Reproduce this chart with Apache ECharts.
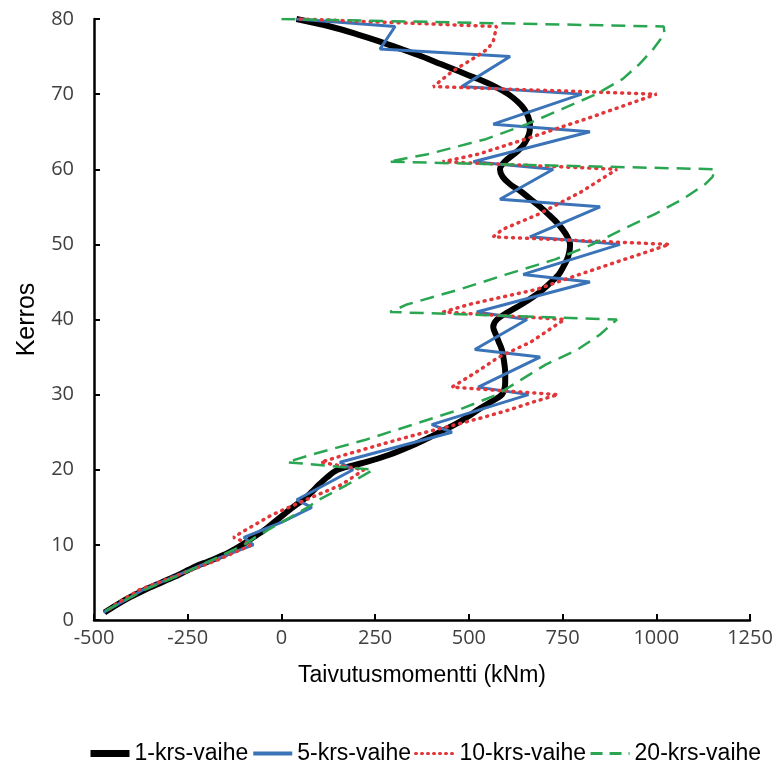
<!DOCTYPE html>
<html>
<head>
<meta charset="utf-8">
<script src="https://cdn.jsdelivr.net/npm/echarts@6/dist/echarts.min.js"></script>
<style>
html, body { margin: 0; padding: 0; background: #fff; }
#chart { width: 776px; height: 773px; }
</style>
</head>
<body>
<div id="chart"></div>
<script>
var seriesNames = ['1-krs-vaihe', '5-krs-vaihe', '10-krs-vaihe', '20-krs-vaihe'];
var colors = ['#000000', '#3a73b8', '#e2373a', '#2aa652'];
var xTicks = [-500, -250, 0, 250, 500, 750, 1000, 1250];
var yTicks = [0, 10, 20, 30, 40, 50, 60, 70, 80];

// 1-krs-vaihe (kerros / taivutusmomentti)
var floors1 = [80, 79, 78, 77, 76, 75, 74, 73, 72, 71, 70, 69, 68, 67, 66, 65, 64, 63, 62, 61,
               60, 59, 58, 57, 56, 55, 54, 53, 52, 51, 50, 49, 48, 47, 46, 45, 44, 43, 42, 41,
               40, 39, 38, 37, 36, 35, 34, 33, 32, 31, 30, 29, 28, 27, 26, 25, 24, 23, 22, 21,
               20, 19, 18, 17, 16, 15, 14, 13, 12, 11, 10, 9, 8, 7, 6, 5, 4, 3, 2, 1];
var moment1 = [40, 130, 200, 263, 320, 375, 425, 475, 525, 570, 605, 630, 648, 658, 663, 662, 655, 642, 620, 595,
               583, 590, 610, 640, 665, 690, 712, 733, 750, 763, 770, 768, 762, 752, 740, 720, 698, 671, 640, 605,
               575, 565, 572, 580, 588, 592, 595, 597, 597, 596, 588, 558, 525, 495, 462, 422, 382, 338, 288, 225,
               150, 122, 100, 80, 58, 30, 5, -20, -45, -75, -105, -140, -185, -235, -275, -320, -365, -405, -440, -472];

// 5-krs-vaihe
var floors5 = [80, 79, 76, 75, 71, 70, 66, 65, 61, 60, 56, 55, 51, 50, 46, 45, 41, 40, 36, 35,
               31, 30, 26, 25, 21, 20, 16, 15, 13, 11, 10, 8, 6, 4, 2, 1];
var moment5 = [40, 303, 263, 610, 481, 801, 565, 823, 512, 725, 583, 850, 663, 903, 645, 823, 521, 655, 516, 690,
               525, 659, 401, 455, 156, 191, 41, 81, 0, -100, -75, -180, -275, -370, -440, -475];

// 10-krs-vaihe
var floors10 = [80, 79, 77, 76, 75, 73, 71, 70, 67, 64, 62, 61, 60, 57, 54, 52, 51, 50, 48, 46,
                44, 42, 41, 40, 37, 35, 33, 31, 30, 29, 28, 27, 26, 25, 24, 23, 22, 21, 20, 18,
                16, 14, 12, 11, 10, 8, 6, 4, 2, 1];
var moment10 = [50, 574, 565, 550, 520, 455, 405, 1001, 830, 650, 525, 430, 895, 800, 685, 590, 565, 1035, 915, 795,
                680, 500, 432, 755, 665, 580, 520, 455, 738, 670, 610, 540, 465, 385, 310, 240, 170, 105, 220, 160,
                65, -25, -95, -128, -80, -170, -275, -380, -445, -470];

// 20-krs-vaihe
var floors20 = [80, 79, 78, 76, 74, 72, 70, 68, 66, 64, 62, 61, 60, 59, 58, 56, 54, 52, 50, 48,
                46, 44, 42, 41, 40, 38, 36, 34, 32, 30, 28, 26, 24, 22, 21, 20, 18, 16, 15, 13,
                11, 10, 8, 6, 4, 2, 1];
var moment20 = [0, 1020, 1022, 992, 955, 910, 840, 748, 655, 545, 390, 285, 1157, 1150, 1130, 1070, 995, 910, 830, 730,
                600, 475, 335, 290, 895, 850, 790, 705, 640, 575, 475, 350, 225, 80, 15, 245, 175, 100, 70, 0,
                -70, -100, -185, -270, -365, -440, -478];

var lineStyles = [
    {color: colors[0], width: 6},
    {color: colors[1], width: 3},
    {color: colors[2], width: 3.5, type: [1, 6], cap: 'round'},
    {color: colors[3], width: 2.5, type: [14, 8]}
];
var legendLines = [
    {color: colors[0], width: 7},
    {color: colors[1], width: 4},
    {color: colors[2], width: 3, type: [1, 5], cap: 'round'},
    {color: colors[3], width: 3, type: [12, 7]}
];

function pairs(xs, ys) {
    var out = [];
    for (var i = 0; i < xs.length; i++) {
        out.push([xs[i], ys[i]]);
    }
    return out;
}

var legendData = [];
for (var i = 0; i < seriesNames.length; i++) {
    legendData.push({name: seriesNames[i], lineStyle: legendLines[i], itemStyle: {opacity: 0}});
}

var dom = document.getElementById('chart');
var myChart = echarts.init(dom, null, {renderer: 'canvas'});
var option = {
    animation: false,
    backgroundColor: '#ffffff',
    color: colors,
    grid: {
        left: 94,
        right: 26,
        top: 19,
        bottom: 153
    },
    legend: {
        data: legendData,
        bottom: 3,
        left: 82,
        itemWidth: 39,
        itemHeight: 10,
        itemGap: 3,
        itemStyle: {opacity: 0},
        textStyle: {
            fontFamily: 'Liberation Sans, Arial, sans-serif',
            fontSize: 23,
            color: '#000'
        }
    },
    xAxis: {
        type: 'value',
        min: xTicks[0],
        max: xTicks[xTicks.length - 1],
        interval: 250,
        name: 'Taivutusmomentti (kNm)',
        nameLocation: 'middle',
        nameGap: 44,
        nameTextStyle: {
            fontFamily: 'Liberation Sans, Arial, sans-serif',
            fontSize: 23,
            color: '#000'
        },
        splitLine: {show: false},
        axisLine: {show: true, onZero: false, lineStyle: {color: '#000', width: 2.5}},
        axisTick: {show: true, inside: true, length: 6, lineStyle: {color: '#000', width: 2}},
        axisLabel: {
            margin: 8,
            fontFamily: 'Open Sans, Noto Sans, sans-serif',
            fontSize: 20,
            color: '#404040',
            formatter: function (v) { return String(v); }
        }
    },
    yAxis: {
        type: 'value',
        min: yTicks[0],
        max: yTicks[yTicks.length - 1],
        interval: 10,
        name: 'Kerros',
        nameLocation: 'middle',
        nameGap: 54,
        nameTextStyle: {
            fontFamily: 'Liberation Sans, Arial, sans-serif',
            fontSize: 25,
            color: '#000'
        },
        splitLine: {show: false},
        axisLine: {show: true, onZero: false, lineStyle: {color: '#000', width: 2.5}},
        axisTick: {show: true, inside: true, length: 6, lineStyle: {color: '#000', width: 2}},
        axisLabel: {
            margin: 20,
            fontFamily: 'Open Sans, Noto Sans, sans-serif',
            fontSize: 20,
            color: '#404040'
        }
    },
    series: [
        {
            name: seriesNames[0],
            type: 'line',
            symbol: 'none',
            smooth: 0.3,
            z: 2,
            lineStyle: lineStyles[0],
            data: pairs(moment1, floors1)
        },
        {
            name: seriesNames[1],
            type: 'line',
            symbol: 'none',
            z: 3,
            lineStyle: lineStyles[1],
            data: pairs(moment5, floors5)
        },
        {
            name: seriesNames[2],
            type: 'line',
            symbol: 'none',
            z: 4,
            lineStyle: lineStyles[2],
            data: pairs(moment10, floors10)
        },
        {
            name: seriesNames[3],
            type: 'line',
            symbol: 'none',
            z: 5,
            lineStyle: lineStyles[3],
            data: pairs(moment20, floors20)
        }
    ]
};
if (option && typeof option === "object") {
    myChart.setOption(option, true);
}
</script>
</body>
</html>
